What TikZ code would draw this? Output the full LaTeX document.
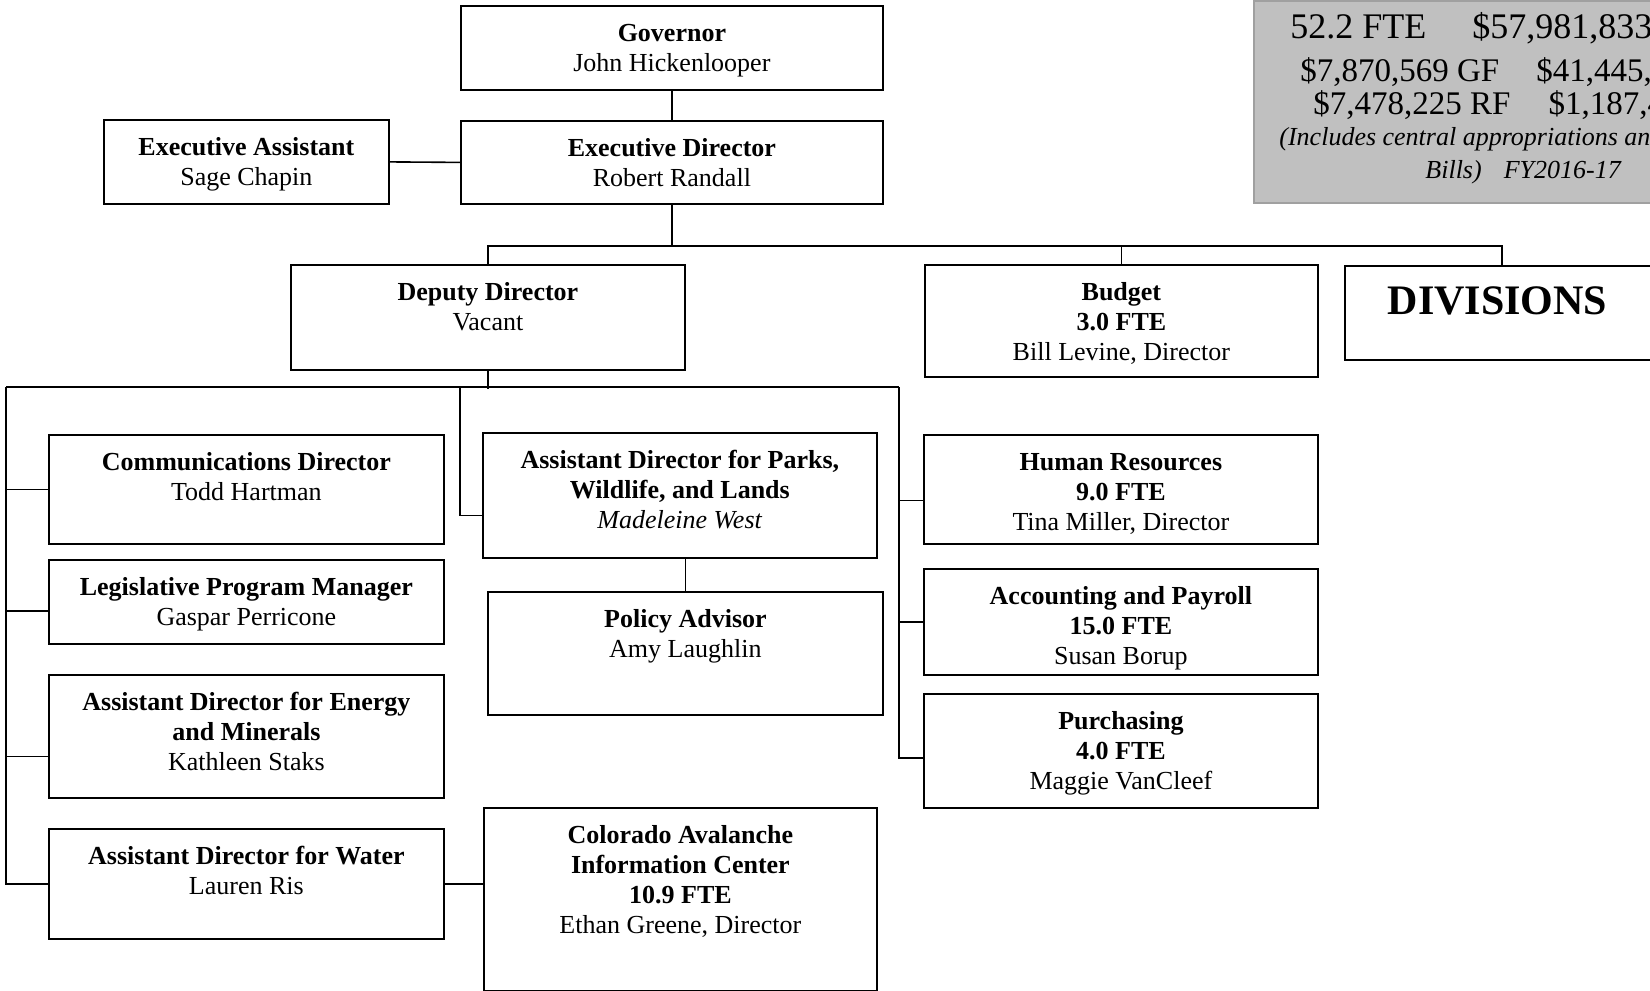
\documentclass[tikz,border=0pt]{standalone}
\usepackage{fontspec}
\setmainfont{Liberation Serif}
\usepackage{xcolor}
\definecolor{panel}{RGB}{192,192,192}
\definecolor{panelrim}{RGB}{160,160,160}

% box text: width, height, lines (set from the top of the box)
\newcommand{\orgtext}[3]{\parbox[c][#2][t]{#1}{\centering\vspace*{7.3pt}\strut#3\strut}}

\begin{document}
\begin{tikzpicture}[x=0.5pt,y=-0.5pt,
  unit/.style={draw,line width=0.9pt,inner sep=0pt,anchor=north west,font=\fontsize{13}{15}\selectfont},
  link/.style={line width=0.8pt},
  fund/.style={anchor=base west,inner sep=0pt}]
\useasboundingbox (0,0) rectangle (1650,991);
\clip (0,0) rectangle (1650,991);

% funding panel, top right
\node[unit,draw=panelrim,fill=panel,minimum width=213.5pt,minimum height=101pt] (funds) at (1253,0) {};
\node[fund,font=\fontsize{18}{20}\selectfont] (fte) at (1290,38) {52.2 FTE\hspace{23pt}\$57,981,833};
\node[fund,font=\fontsize{16.5}{18}\selectfont] (gf) at (1300,81) {\$7,870,569 GF\hspace{18.5pt}\$41,445,3};
\node[fund,font=\fontsize{16.5}{18}\selectfont] (rf) at (1313,114) {\$7,478,225 RF\hspace{19pt}\$1,187,4};
\node[fund,font=\fontsize{13}{15}\selectfont\itshape] (incl) at (1279,145) {(Includes central appropriations and};
\node[fund,font=\fontsize{13}{15}\selectfont\itshape] (fy) at (1425,178) {Bills)\hspace{11pt}FY2016-17};

% top of the chart
\node[unit] (gov) at (460,5) {\orgtext{211pt}{42pt}{\textbf{Governor}\\John Hickenlooper}};
\node[unit] (exd) at (460,120) {\orgtext{211pt}{41.5pt}{\textbf{Executive Director}\\Robert Randall}};
\node[unit] (exa) at (103,119) {\orgtext{142.5pt}{42pt}{\textbf{Executive Assistant}\\Sage Chapin}};

\node[unit] (dep) at (290,264) {\orgtext{197pt}{52.5pt}{\textbf{Deputy Director}\\Vacant}};
\node[unit] (bud) at (924,264) {\orgtext{196.5pt}{56pt}{\textbf{Budget}\\\textbf{3.0 FTE}\\Bill Levine, Director}};
\node[unit] (div) at (1344,265) {\parbox[c][47pt][t]{157pt}{\vspace*{10.5pt}\hspace*{21.5pt}\fontsize{21}{23}\selectfont\textbf{DIVISIONS}}};

% left column
\node[unit] (com) at (48,434) {\orgtext{197.5pt}{54.5pt}{\textbf{Communications Director}\\Todd Hartman}};
\node[unit] (leg) at (48,559) {\orgtext{197.5pt}{42pt}{\textbf{Legislative Program Manager}\\Gaspar Perricone}};
\node[unit] (ene) at (48,674) {\orgtext{197.5pt}{61.5pt}{\textbf{Assistant Director for Energy}\\\textbf{and Minerals}\\Kathleen Staks}};
\node[unit] (wat) at (48,828) {\orgtext{197.5pt}{55pt}{\textbf{Assistant Director for Water}\\Lauren Ris}};

% middle column
\node[unit] (par) at (482,432) {\orgtext{197pt}{62.5pt}{\textbf{Assistant Director for Parks,}\\\textbf{Wildlife, and Lands}\\\textit{Madeleine West}}};
\node[unit] (pol) at (487,591) {\orgtext{197.5pt}{61.5pt}{\textbf{Policy Advisor}\\Amy Laughlin}};
\node[unit] (caic) at (483,807) {\orgtext{196.5pt}{91.5pt}{\textbf{Colorado Avalanche}\\\textbf{Information Center}\\\textbf{10.9 FTE}\\Ethan Greene, Director}};

% right column
\node[unit] (hr) at (923,434) {\orgtext{197pt}{54.5pt}{\textbf{Human Resources}\\\textbf{9.0 FTE}\\Tina Miller, Director}};
\node[unit] (acc) at (923,568) {\orgtext{197pt}{53pt}{\textbf{Accounting and Payroll}\\\textbf{15.0 FTE}\\Susan Borup}};
\node[unit] (pur) at (923,693) {\orgtext{197pt}{57pt}{\textbf{Purchasing}\\\textbf{4.0 FTE}\\Maggie VanCleef}};

% connectors
\draw[link] (gov.south) -- (exd.north);
\draw[link] (exa.east) -- (exd.west);
\draw[link] (exd.south) -- ++(0,41) coordinate (topbus);
\draw[link] (dep.north) |- (topbus) -| (div.north);
\draw[link] (bud.north) -- (bud.north |- topbus);

\draw[link] (dep.south) -- ++(0,18) coordinate (midbus);
\coordinate (lrail) at (6,387);
\coordinate (prail) at (460,387);
\coordinate (rrail) at (899,387);
\draw[link] (lrail) -- (rrail);
\draw[link] (lrail) |- (wat.west);
\draw[link] (rrail) |- ([yshift=-3.5pt]pur.west);
\draw[link] (prail) |- ([yshift=-10pt]par.west);
\draw[link] (com.west) -- (com.west -| lrail);
\draw[link] ([yshift=-4.5pt]leg.west) -- ([yshift=-4.5pt]leg.west -| lrail);
\draw[link] ([yshift=-10pt]ene.west) -- ([yshift=-10pt]ene.west -| lrail);
\draw[link] ([yshift=-5.5pt]hr.west) -- ([yshift=-5.5pt]hr.west -| rrail);
\draw[link] (acc.west) -- (acc.west -| rrail);
\draw[link] (wat.east) -- (wat.east -| caic.west);
\draw[link] (pol.north) -- (pol.north |- par.south);
\end{tikzpicture}
\end{document}
